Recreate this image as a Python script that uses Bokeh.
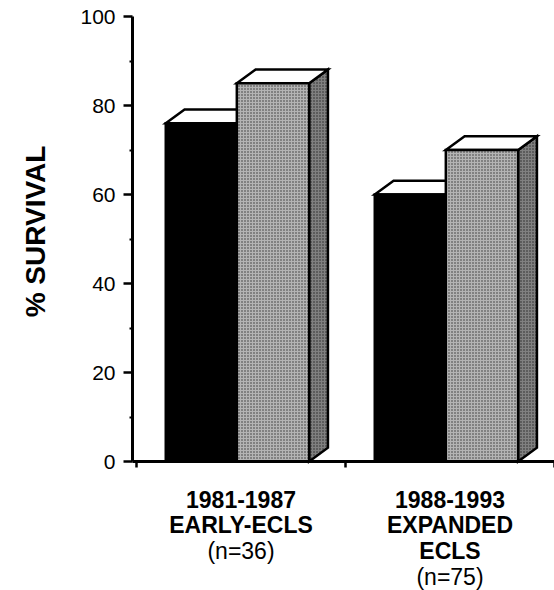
import math
from bokeh.plotting import figure
from bokeh.models import Range1d, FixedTicker
from bokeh.core.properties import value
from bokeh.embed import file_html
from bokeh.resources import INLINE

# ---- data ----
group_labels = ["1981-1987\nEARLY-ECLS", "1988-1993\nEXPANDED\nECLS"]
n_labels = ["(n=36)", "(n=75)"]
early_vals = [76, 60]      # black bars
late_vals = [85, 70]       # gray stippled bars
y_ticks = [0, 20, 40, 60, 80, 100]
y_minor = [10, 30, 50, 70, 90]
y_title = "% SURVIVAL"

# ---- geometry (category units / value units) ----
centers = [0.5 + i for i in range(len(group_labels))]
left_off, split_off, right_off = -0.36, -0.02, 0.326
dx, dy = 0.09, 3.1

FONT = "Liberation Sans"
W, H = 554, 590
y100_px, y0_px = 16, 461                     # screen rows of 100 % and 0 %
px_per_unit_y = (y0_px - y100_px) / 100.0
y_top = 100 + y100_px / px_per_unit_y
y_bottom = -(H - y0_px) / px_per_unit_y
px_per_unit_x = 209.0
x_left = -136 / px_per_unit_x
x_right = x_left + W / px_per_unit_x
axis_x = -4 / px_per_unit_x                  # value axis just left of category 0

p = figure(width=W, height=H, output_backend="svg", toolbar_location=None,
           x_range=Range1d(x_left, x_right), y_range=Range1d(y_bottom, y_top),
           min_border_left=0, min_border_right=0, min_border_top=0,
           min_border_bottom=0)
p.outline_line_color = None
p.grid.visible = False
p.background_fill_color = "white"
p.border_fill_color = "white"

black_front = dict(l=[], r=[], t=[])
black_top = dict(xs=[], ys=[])
gray_front = dict(l=[], r=[], t=[])
gray_top = dict(xs=[], ys=[])
gray_side = dict(xs=[], ys=[])
for c, vb, vg in zip(centers, early_vals, late_vals):
    x0, x1, x2 = c + left_off, c + split_off, c + right_off
    black_front["l"].append(x0); black_front["r"].append(x1); black_front["t"].append(vb)
    black_top["xs"].append([x0, x1, x1 + dx, x0 + dx])
    black_top["ys"].append([vb, vb, vb + dy, vb + dy])
    gray_front["l"].append(x1); gray_front["r"].append(x2); gray_front["t"].append(vg)
    gray_top["xs"].append([x1, x2, x2 + dx, x1 + dx])
    gray_top["ys"].append([vg, vg, vg + dy, vg + dy])
    gray_side["xs"].append([x2, x2 + dx, x2 + dx, x2])
    gray_side["ys"].append([0, dy, vg + dy, vg])

lw = 2.5
p.patches(black_top["xs"], black_top["ys"], fill_color="white", line_color="black",
          line_width=lw, line_join="miter")
p.quad(left=black_front["l"], right=black_front["r"], bottom=0, top=black_front["t"],
       fill_color="black", line_color="black", line_width=lw, line_join="miter")
p.patches(gray_side["xs"], gray_side["ys"], fill_color="#808080", line_color="black",
          line_width=lw, line_join="miter", hatch_pattern="dot", hatch_scale=3,
          hatch_weight=1.2, hatch_color="black", hatch_alpha=0.7)
p.patches(gray_top["xs"], gray_top["ys"], fill_color="white", line_color="black",
          line_width=lw, line_join="miter")
p.quad(left=gray_front["l"], right=gray_front["r"], bottom=0, top=gray_front["t"],
       fill_color="#b4b4b4", line_color="black", line_width=lw, line_join="miter",
       hatch_pattern="dot", hatch_scale=3, hatch_weight=1.0, hatch_color="black",
       hatch_alpha=0.7)

# value axis, placed at the left end of the category axis
ya = p.yaxis[0]
ya.fixed_location = axis_x
ya.ticker = FixedTicker(ticks=y_ticks, minor_ticks=y_minor)
ya.bounds = (0, 100)
ya.major_label_text_font = FONT
ya.major_label_text_font_size = "21px"
ya.major_label_text_color = "black"
ya.major_label_standoff = 8
ya.axis_line_width = 3
ya.axis_line_color = "black"
ya.major_tick_out = 9
ya.major_tick_in = 0
ya.major_tick_line_width = 2.5
ya.minor_tick_out = 3
ya.minor_tick_in = 0
ya.minor_tick_line_width = 2

# category axis, drawn at value 0; category borders as small ticks
xa = p.xaxis[0]
xa.fixed_location = 0
xa.bounds = (axis_x, x_right)
xa.ticker = FixedTicker(ticks=[], minor_ticks=[0, 1, 2])
xa.major_tick_out = 0
xa.major_tick_in = 0
xa.minor_tick_out = 6
xa.minor_tick_in = 0
xa.minor_tick_line_width = 2.5
xa.axis_line_width = 3
xa.axis_line_color = "black"

# value-axis title (vertical)
title_x = x_left + 35 / px_per_unit_x
title_y = 100 - (231 - y100_px) / px_per_unit_y
p.text(x=[title_x], y=[title_y], text=[y_title], angle=math.pi / 2,
       text_align="center", text_baseline="alphabetic",
       text_font=value(FONT), text_font_style="bold", text_font_size=value("28px"),
       text_color="black")

# category captions (bold) and sample sizes (regular)
first_base = 38 / px_per_unit_y       # baseline of first caption row below zero
row_step = 25.8 / px_per_unit_y
cap_x, cap_y, cap_t = [], [], []
n_x, n_y = [], []
for c, lab in zip(centers, group_labels):
    rows = lab.split("\n")
    for k, r in enumerate(rows):
        cap_x.append(c); cap_y.append(-(first_base + k * row_step)); cap_t.append(r)
    n_x.append(c); n_y.append(-(first_base + len(rows) * row_step))
p.text(x=cap_x, y=cap_y, text=cap_t, text_align="center", text_baseline="alphabetic",
       text_font=value(FONT), text_font_style="bold", text_font_size=value("23px"),
       text_color="black")
p.text(x=n_x, y=n_y, text=n_labels, text_align="center", text_baseline="alphabetic",
       text_font=value(FONT), text_font_size=value("23px"), text_color="black")

open("out.html", "w").write(file_html(p, INLINE))
